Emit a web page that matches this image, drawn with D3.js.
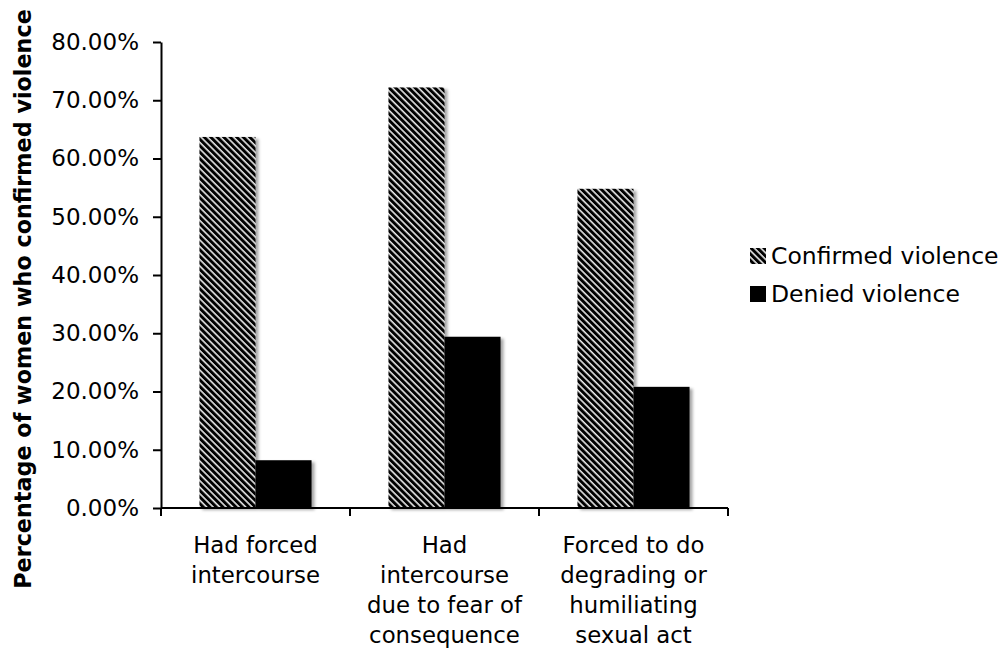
<!DOCTYPE html>
<html><head><meta charset="utf-8">
<script src="https://cdn.jsdelivr.net/npm/d3@7"></script>
<style>body{margin:0;background:#fff}svg{display:block}text{font-family:"DejaVu Sans",Verdana,sans-serif;fill:#000}</style>
</head><body><svg id="c" width="1002" height="648"></svg>
<script>
const categories = ["Had forced intercourse","Had intercourse due to fear of consequence","Forced to do degrading or humiliating sexual act"];
const categoryLines = [["Had forced","intercourse"],["Had","intercourse","due to fear of","consequence"],["Forced to do","degrading or","humiliating","sexual act"]];
const seriesNames = ["Confirmed violence","Denied violence"];
const confirmed = [0.637, 0.722, 0.548];
const denied = [0.082, 0.294, 0.208];
const yTicks = [0,0.1,0.2,0.3,0.4,0.5,0.6,0.7,0.8];
const yTitle = "Percentage of women who confirmed violence";

const svg = d3.select("#c");
const defs = svg.append("defs");
const pat = defs.append("pattern").attr("id","hatch").attr("patternUnits","userSpaceOnUse")
  .attr("width",4.6).attr("height",4.6).attr("patternTransform","rotate(-45)");
pat.append("rect").attr("width",4.6).attr("height",4.6).attr("fill","#000");
pat.append("rect").attr("x",3.0).attr("width",1.6).attr("height",4.6).attr("fill","#e8e8e8");
const f = defs.append("filter").attr("id","sh").attr("x","-20%").attr("y","-20%").attr("width","150%").attr("height","150%");
f.append("feDropShadow").attr("dx",3).attr("dy",2).attr("stdDeviation",1.5).attr("flood-color","#000").attr("flood-opacity",0.35);

const x0 = 161, x1 = 728, yBottom = 508, yTop = 42;
const y = d3.scaleLinear().domain([0,0.8]).range([yBottom,yTop]);
const x = d3.scaleBand().domain(categories).range([x0,x1]).paddingInner(0.407).paddingOuter(0.2035);
const xs = d3.scaleBand().domain(seriesNames).range([0,x.bandwidth()]);

const data = categories.map((c,i)=>({c, vals:[{s:seriesNames[0],v:confirmed[i]},{s:seriesNames[1],v:denied[i]}]}));
const fills = {"Confirmed violence":"url(#hatch)","Denied violence":"#000"};

const g = svg.append("g").attr("filter","url(#sh)");
data.forEach(d=>{
  g.selectAll(null).data(d.vals).enter().append("rect")
    .attr("x",e=>x(d.c)+xs(e.s)).attr("width",xs.bandwidth())
    .attr("y",e=>y(e.v)).attr("height",e=>y(0)-y(e.v))
    .attr("fill",e=>fills[e.s]);
});

// y axis
const ya = svg.append("g").attr("transform",`translate(${x0},0)`)
  .call(d3.axisLeft(y).tickValues(yTicks).tickSize(8).tickSizeOuter(0).tickPadding(14).tickFormat(d3.format(".2%")));
ya.select(".domain").attr("stroke","#000").attr("stroke-width",2);
ya.selectAll(".tick line").attr("stroke","#000").attr("stroke-width",2);
ya.selectAll(".tick text").style("font-size","23px").style("font-family","DejaVu Sans").attr("fill","#000");

// x axis
const step = x.step();
const bounds = categories.map(c=>x(c)-step*x.paddingInner()/2);
bounds.push(x1);
const xa = svg.append("g");
xa.append("line").attr("x1",x0).attr("x2",x1).attr("y1",y(0)).attr("y2",y(0)).attr("stroke","#000").attr("stroke-width",2);
xa.selectAll(null).data(bounds).enter().append("line")
  .attr("x1",d=>d).attr("x2",d=>d).attr("y1",y(0)).attr("y2",y(0)+8).attr("stroke","#000").attr("stroke-width",2);
categories.forEach((c,i)=>{
  const t = xa.append("text").attr("text-anchor","middle").style("font-size","22.8px")
    .attr("x",x(c)+x.bandwidth()/2).attr("y",553);
  categoryLines[i].forEach((ln,j)=>t.append("tspan").attr("x",x(c)+x.bandwidth()/2).attr("y",553+j*30).text(ln));
});

// y title
const tt = svg.append("text").attr("transform","translate(31,299) rotate(-90)").attr("text-anchor","middle")
  .style("font-weight","bold").style("font-size","10px").text(yTitle);
const w10 = tt.node().getComputedTextLength();
tt.style("font-size",(10*580/w10)+"px");

// legend
const lg = svg.append("g");
seriesNames.forEach((s,i)=>{
  const cy = 256 + i*38;
  lg.append("rect").attr("x",750).attr("y",cy-8).attr("width",16).attr("height",16).attr("fill",fills[s]);
  lg.append("text").attr("x",771).attr("y",cy).attr("dy","0.36em").style("font-size","23.5px").text(s);
});
</script></body></html>
